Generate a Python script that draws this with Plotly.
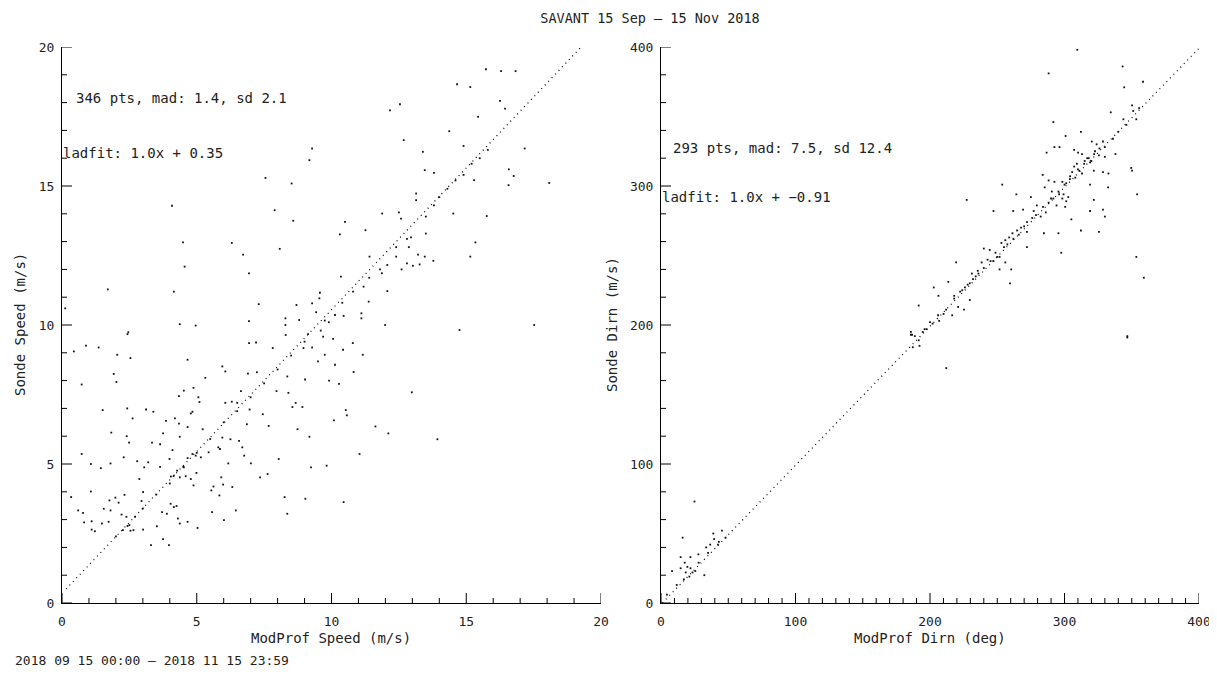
import plotly.graph_objects as go

# ---------------- data ----------------
title_text = "SAVANT 15 Sep \u2013 15 Nov 2018"
date_text = "2018 09 15 00:00 \u2013 2018 11 15 23:59"

speed_xlabel = "ModProf Speed (m/s)"
speed_ylabel = "Sonde Speed (m/s)"
dirn_xlabel = "ModProf Dirn (deg)"
dirn_ylabel = "Sonde Dirn (m/s)"

speed_stats = "346 pts, mad: 1.4, sd 2.1"
speed_fit_text = "ladfit: 1.0x + 0.35"
dirn_stats = "293 pts, mad: 7.5, sd 12.4"
dirn_fit_text = "ladfit: 1.0x + \u22120.91"

speed_fit_slope = 1.02
speed_fit_intercept = 0.35
speed_fit_xmin = 0.15
dirn_fit_slope = 1.0
dirn_fit_intercept = -0.91
dirn_fit_xmin = 1.0

speed_range = [0, 20]
dirn_range = [0, 400]
speed_major, speed_minor = 5, 1
dirn_major, dirn_xminor, dirn_yminor = 100, 10, 20

speed_x = [15.73, 16.29, 16.83, 14.66, 15.15, 12.17, 12.54, 16.25, 16.44, 15.44, 14.37, 12.68, 14.9,
           13.39, 17.17, 9.28, 9.18, 13.46, 13.8, 15.29, 16.58, 16.76, 16.57, 18.08, 7.55, 8.52, 4.08,
           7.89, 8.58, 10.5, 10.31, 11.26, 11.88, 12.5, 12.58, 13.14, 13.14, 14.52, 15.76, 13.5, 12.95,
           15.34, 15.15, 12.87, 13.21, 13.46, 13.78, 12.8, 13.02, 13.27, 12.6, 12.4, 12.07, 11.87, 12.07,
           11.41, 11.19, 11.38, 11.11, 11.11, 10.35, 10.45, 10.13, 9.57, 9.55, 9.28, 9.43, 9.75, 8.7,
           8.8, 8.29, 8.29, 11.99, 14.75, 17.52, 7.3, 6.94, 4.49, 4.55, 4.15, 4.37, 4.96, 6.3, 6.72,
           6.94, 8.08, 1.7, 0.12, 2.46,
           13.5, 13.8, 14.0, 14.3, 14.6, 14.9, 15.2, 15.5, 15.8, 12.8, 12.4, 11.8, 11.4, 10.8, 10.4,
           9.9, 9.6,
           0.44, 0.89, 1.36, 2.05, 2.54, 2.43, 0.73, 1.92, 2.02, 1.51, 2.42, 2.62, 1.83, 2.4, 2.49,
           0.73, 1.07, 1.44, 1.8, 2.29, 0.34, 0.6, 0.78, 0.82, 1.1, 1.1, 1.22, 1.48, 1.07, 1.55, 1.76,
           1.8, 1.98, 2.1, 2.32, 1.73, 2.21, 2.39, 2.43, 2.26, 2.54, 2.65, 2.71, 3.01, 2.95, 3.01, 3.05,
           3.2, 2.79, 2.87, 3.12, 3.39, 3.34, 3.64, 3.75, 3.64, 3.3, 3.75, 3.97, 3.52, 3.71, 3.89, 4.03,
           4.15, 4.25, 4.3, 4.37, 4.66, 5.03, 3.86, 4.19, 4.34, 4.52, 4.88, 4.66, 5.06, 5.1, 4.84, 4.78,
           4.66, 4.34, 4.37, 4.1, 3.99, 4.04, 4.15, 4.27, 4.37, 4.52, 4.59, 4.78, 4.84, 4.66, 4.96, 4.99,
           4.88, 5.15, 5.22, 5.32, 5.44, 5.54, 5.62, 5.84, 5.57, 5.95, 6.06, 6.06, 5.95, 5.8, 5.86, 5.91,
           5.98, 6.01, 6.17, 6.25, 6.3, 6.32, 6.45, 6.5, 6.57, 6.64, 6.69, 6.76, 6.86, 6.9, 6.94, 6.96,
           7.01, 7.2, 7.23, 7.35, 7.45, 7.63, 7.67, 7.82, 7.96, 8.04, 8.26, 8.36, 8.36, 8.4, 8.3, 8.55,
           8.67, 8.74, 8.92, 8.96, 9.02, 9.03, 9.13, 9.18, 9.24, 9.28, 9.5, 9.69, 9.75, 9.82, 9.91,
           10.06, 10.09, 10.13, 10.28, 10.43, 10.45, 10.53, 10.57, 10.79, 10.82, 11.04, 11.16, 11.63,
           12.11, 12.98, 13.93,
           3.5, 4.0, 4.5, 5.0, 5.5, 6.0, 6.5, 7.0, 7.5, 8.0, 8.5, 9.0, 2.0, 2.5, 3.0]
speed_y = [19.2, 19.13, 19.13, 18.66, 18.56, 17.72, 17.94, 18.06, 17.78, 17.49, 16.97, 16.65, 16.44,
           16.23, 16.35, 16.35, 15.93, 15.57, 15.47, 15.21, 15.6, 15.36, 15.03, 15.11, 15.29, 15.09,
           14.29, 14.13, 13.75, 13.71, 13.26, 13.41, 14.01, 14.05, 13.83, 14.73, 14.49, 14.01, 13.92,
           13.29, 13.15, 12.97, 12.46, 12.8, 12.53, 12.46, 12.31, 12.22, 12.13, 12.18, 12.0, 12.46,
           12.16, 11.86, 11.22, 12.46, 11.38, 10.84, 10.42, 10.24, 11.74, 10.33, 10.36, 11.16, 10.96,
           10.78, 10.46, 10.16, 10.72, 10.18, 10.24, 10.0, 10.0, 9.82, 10.0, 10.75, 10.14, 12.97, 12.1,
           11.2, 10.03, 9.98, 12.95, 12.53, 11.86, 12.74, 11.28, 10.6, 9.74,
           13.9, 14.3, 14.6, 14.9, 15.2, 15.4, 15.8, 16.0, 16.3, 13.1, 12.8, 12.0, 11.7, 11.2, 10.8,
           10.1, 9.8,
           9.05, 9.26, 9.19, 8.93, 8.81, 9.67, 7.86, 8.24, 7.95, 6.94, 7.0, 6.64, 6.13, 6.0, 5.77, 5.36,
           5.0, 4.85, 5.02, 5.24, 3.81, 3.33, 3.24, 2.9, 2.94, 2.64, 2.58, 2.86, 4.01, 3.39, 3.69, 3.33,
           3.79, 3.61, 3.89, 2.92, 3.18, 3.1, 2.77, 2.62, 2.6, 2.62, 3.1, 2.64, 3.67, 3.99, 4.88, 5.06,
           5.1, 4.46, 6.96, 6.88, 5.77, 5.71, 6.1, 4.9, 2.08, 2.3, 2.08, 2.76, 3.27, 3.21, 3.57, 3.45,
           3.49, 3.04, 2.86, 2.92, 2.7, 6.55, 6.64, 7.44, 7.64, 7.74, 8.75, 7.4, 7.23, 6.88, 6.82, 6.33,
           6.45, 5.98, 5.5, 5.18, 4.55, 4.58, 4.76, 4.52, 4.88, 4.56, 4.46, 5.36, 5.21, 5.3, 4.68, 4.23,
           5.24, 6.25, 8.1, 5.42, 4.05, 4.19, 3.87, 3.27, 8.51, 8.33, 7.2, 5.95, 5.6, 5.54, 4.52, 4.26,
           2.98, 5.02, 5.89, 7.24, 4.17, 3.33, 7.2, 5.83, 7.62, 5.6, 5.3, 6.43, 8.25, 9.35, 6.96, 5.02,
           9.37, 8.3, 4.52, 6.79, 4.64, 6.37, 9.17, 7.62, 5.18, 3.81, 3.21, 8.15, 7.56, 9.64, 7.05, 7.2,
           6.25, 7.05, 9.17, 8.04, 3.75, 9.67, 5.98, 4.88, 9.19, 8.69, 9.58, 8.93, 4.94, 8.0, 9.5, 6.57,
           8.57, 7.88, 9.11, 3.63, 6.94, 6.75, 9.35, 8.31, 5.36, 8.93, 6.35, 6.1, 7.58, 5.89,
           3.9, 4.3, 4.9, 5.4, 5.9, 6.5, 6.9, 7.4, 7.9, 8.4, 8.9, 9.4, 2.4, 2.8, 3.4]

dirn_x = [309.5, 288.2, 343.2, 344.4, 358.4, 291.7, 300.8, 312.2, 334.4, 350.2, 351.1, 353.4, 343.8,
          355.5, 286.7, 292.5, 296.3, 307.2, 310.1, 313.0, 320.3, 323.9, 328.6, 322.7, 325.6, 330.0,
          337.9, 316.9, 319.0, 314.6, 309.2, 307.2, 305.7, 311.0, 313.0, 321.8, 328.6, 332.7, 349.6,
          350.2, 283.8, 288.2, 292.5, 298.4, 301.3, 304.2, 285.3, 290.6, 295.5, 299.3, 302.8, 319.0,
          332.4, 354.0, 253.7, 227.3, 264.2, 275.0, 279.4, 288.2, 291.7, 294.1, 298.4, 301.3, 300.5,
          321.8, 319.0, 328.6, 330.0, 247.2, 261.9, 269.2, 277.1, 278.8, 282.3, 286.1, 305.1, 312.2,
          325.6, 284.7, 295.5, 272.1, 267.7, 264.8, 261.3, 272.1, 258.9, 256.0, 253.1, 257.5, 272.1,
          297.6, 240.0, 244.4, 248.7, 251.7, 247.2, 242.8, 238.4, 251.7, 260.4, 256.0, 353.4, 219.4,
          231.1, 235.5, 234.0, 229.6, 226.0, 222.4, 213.6, 202.8, 206.3, 218.0, 229.6, 259.5, 359.0,
          220.9, 225.3, 216.5, 210.1, 206.8, 201.9, 197.5, 191.6, 185.8, 188.7, 346.7,
          185.8, 186.7, 194.6, 191.6, 192.2, 187.2, 346.7, 212.1, 24.9, 16.1, 38.9, 45.3, 39.5, 42.4,
          36.6, 33.6, 27.8, 21.9, 14.6, 8.2, 14.6, 17.6, 19.6, 21.9, 18.4, 23.4, 25.5, 21.1, 32.2,
          17.0, 11.7, 4.4,
          315.0, 318.0, 322.0, 326.0, 308.0, 304.0, 296.0, 290.0, 284.0, 276.0, 270.0, 266.0, 262.0,
          255.0, 250.0, 245.0, 240.0, 236.0, 232.0, 228.0, 224.0, 218.0, 212.0, 206.0, 200.0, 196.0,
          330.0, 336.0, 340.0, 346.0, 300.0, 310.0, 320.0, 28.0, 35.0, 43.0, 48.0]
dirn_y = [398, 381, 386, 371, 375, 346, 336, 339, 353, 358, 354, 348, 348, 356, 324, 328, 328, 326,
          324, 323, 332, 330, 332, 325, 322, 321, 323, 320, 317, 316, 316, 314, 310, 311, 309, 311,
          310, 309, 313, 311, 308, 304, 303, 303, 302, 307, 299, 296, 296, 294, 292, 301, 299, 294,
          301, 290, 294, 292, 286, 288, 291, 286, 291, 289, 285, 290, 282, 283, 278, 282, 282, 283,
          282, 279, 278, 281, 276, 268, 267, 266, 266, 274, 270, 268, 266, 267, 263, 261, 259, 258,
          256, 252, 255, 254, 252, 249, 246, 247, 245, 240, 240, 245, 249, 245, 237, 239, 235, 230,
          227, 224, 231, 227, 221, 221, 218, 230, 234, 213, 211, 207, 208, 203, 201, 197, 214, 193,
          192, 191,
          195, 193, 195, 189, 185, 184, 192, 169, 73, 47, 50, 52, 46, 42, 42, 40, 35, 33, 33, 23, 25,
          29, 26, 25, 22, 22, 23, 19, 20, 17, 13, 6,
          318, 320, 323, 327, 306, 305, 294, 291, 285, 277, 271, 265, 262, 256, 249, 246, 241, 237,
          233, 229, 225, 219, 211, 207, 202, 197, 328, 334, 339, 344, 301, 312, 318, 29, 36, 44, 47]

# ---------------- figure ----------------
FONT = "DejaVu Sans Mono"
TXT = "#222222"
OFF = 8                     # default page margin around the plot div
W, H = 1217 - OFF, 675 - 2 * OFF

# screen-pixel extents of the two plot areas
LEFT_X = (62, 601)
RIGHT_X = (661, 1199)
PLOT_Y = (603, 47)
MAJOR_LEN, MINOR_LEN = 10, 5


def px(x):
    """screen pixel x -> paper fraction"""
    return (x - OFF) / W


def py(y):
    """screen pixel y -> paper fraction"""
    return 1 - (y - OFF) / H


def fit_line(slope, intercept, xmin, ymax):
    xmax = (ymax - intercept) / slope
    return [xmin, xmax], [slope * xmin + intercept, slope * xmax + intercept]


fig = go.Figure()

lx, ly = fit_line(speed_fit_slope, speed_fit_intercept, speed_fit_xmin, speed_range[1])
rx, ry = fit_line(dirn_fit_slope, dirn_fit_intercept, dirn_fit_xmin, dirn_range[1])

marker_style = dict(size=1.8, color="#111111", symbol="square", line=dict(width=0))
line_style = dict(color="black", width=1.2, dash="1px,4px")

fig.add_trace(go.Scatter(x=lx, y=ly, mode="lines", xaxis="x", yaxis="y",
                         line=line_style, hoverinfo="skip"))
fig.add_trace(go.Scatter(x=speed_x, y=speed_y, mode="markers", xaxis="x", yaxis="y",
                         marker=marker_style))
fig.add_trace(go.Scatter(x=rx, y=ry, mode="lines", xaxis="x2", yaxis="y2",
                         line=line_style, hoverinfo="skip"))
fig.add_trace(go.Scatter(x=dirn_x, y=dirn_y, mode="markers", xaxis="x2", yaxis="y2",
                         marker=marker_style))

base = dict(showgrid=False, zeroline=False, showline=True, linecolor="black", linewidth=1,
            ticks="", tickfont=dict(family=FONT, size=13, color=TXT), automargin=False)

fig.update_layout(
    width=W, height=H, showlegend=False,
    margin=dict(l=0, r=0, t=0, b=0, autoexpand=False),
    paper_bgcolor="white", plot_bgcolor="white",
    font=dict(family=FONT, size=14, color=TXT),
    title=dict(text=title_text, x=px(650), y=py(18), xanchor="center", yanchor="middle",
               font=dict(family=FONT, size=13.5, color=TXT)),
    xaxis=dict(**base, domain=[px(LEFT_X[0]), px(LEFT_X[1])], range=speed_range,
               dtick=speed_major, ticklabelstandoff=6, anchor="y"),
    yaxis=dict(**base, domain=[py(PLOT_Y[0]), py(PLOT_Y[1])], range=speed_range,
               dtick=speed_major, ticklabelstandoff=4, anchor="x"),
    xaxis2=dict(**base, domain=[px(RIGHT_X[0]), px(RIGHT_X[1])], range=dirn_range,
                dtick=dirn_major, ticklabelstandoff=6, anchor="y2"),
    yaxis2=dict(**base, domain=[py(PLOT_Y[0]), py(PLOT_Y[1])], range=dirn_range,
                dtick=dirn_major, ticklabelstandoff=4, anchor="x2"),
)


# inside tick marks (IDL style), placed in data coordinates of each axis
def add_ticks(xref, yref, xrange_, yrange_, xpx, ypx, xmajor, xminor, ymajor, yminor):
    x_per_px = (xrange_[1] - xrange_[0]) / (xpx[1] - xpx[0])
    y_per_px = (yrange_[1] - yrange_[0]) / (ypx[0] - ypx[1])
    n = int(round((xrange_[1] - xrange_[0]) / xminor))
    for i in range(n + 1):
        v = xrange_[0] + i * xminor
        length = MAJOR_LEN if abs(v / xmajor - round(v / xmajor)) < 1e-9 else MINOR_LEN
        fig.add_shape(type="line", xref=xref, yref=yref, x0=v, x1=v,
                      y0=yrange_[0], y1=yrange_[0] + length * y_per_px,
                      line=dict(color="black", width=1), layer="above")
    n = int(round((yrange_[1] - yrange_[0]) / yminor))
    for i in range(n + 1):
        v = yrange_[0] + i * yminor
        length = MAJOR_LEN if abs(v / ymajor - round(v / ymajor)) < 1e-9 else MINOR_LEN
        fig.add_shape(type="line", xref=xref, yref=yref, y0=v, y1=v,
                      x0=xrange_[0], x1=xrange_[0] + length * x_per_px,
                      line=dict(color="black", width=1), layer="above")


add_ticks("x", "y", speed_range, speed_range, LEFT_X, PLOT_Y,
          speed_major, speed_minor, speed_major, speed_minor)
add_ticks("x2", "y2", dirn_range, dirn_range, RIGHT_X, PLOT_Y,
          dirn_major, dirn_xminor, dirn_major, dirn_yminor)

ann_font = dict(family=FONT, size=14, color=TXT)


def note(text, x, y, xanchor="left", angle=0, font=ann_font):
    fig.add_annotation(text=text, xref="paper", yref="paper", x=px(x), y=py(y),
                       xanchor=xanchor, yanchor="middle", showarrow=False, font=font,
                       textangle=angle)


note(speed_stats, 74, 98)
note(speed_fit_text, 61, 153)
note(dirn_stats, 671, 148)
note(dirn_fit_text, 660, 197)
note(speed_xlabel, 331, 638, xanchor="center")
note(dirn_xlabel, 930, 638, xanchor="center")
note(speed_ylabel, 20, 325, xanchor="center", angle=-90)
note(dirn_ylabel, 612, 325, xanchor="center", angle=-90)
note(date_text, 13, 660, font=dict(family=FONT, size=13, color=TXT))

fig.write_html("out.html")
